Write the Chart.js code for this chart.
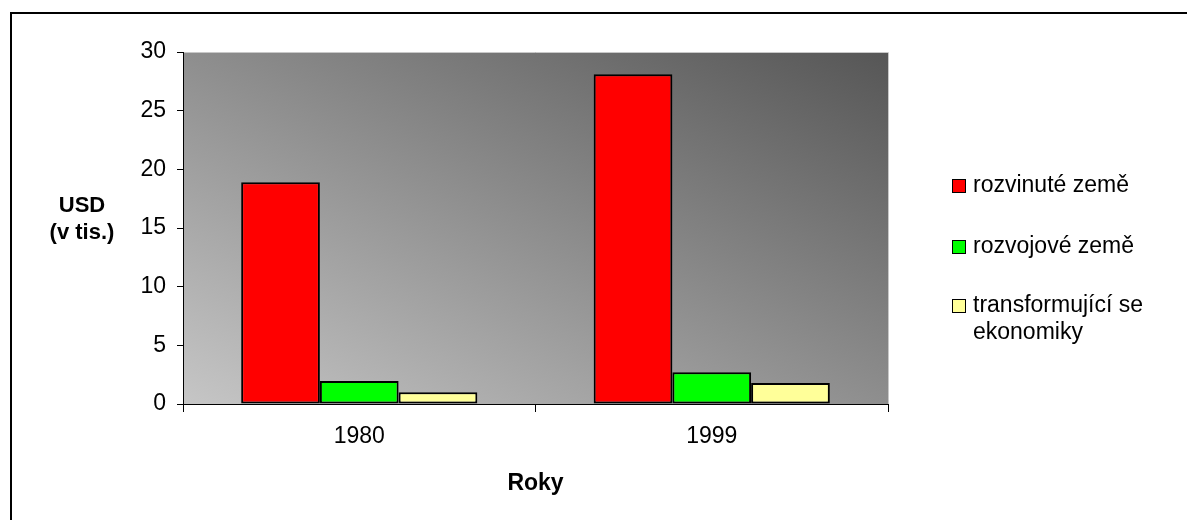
<!DOCTYPE html>
<html>
<head>
<meta charset="utf-8">
<script src="https://cdn.jsdelivr.net/npm/chart.js@4"></script>
<style>
  html, body { margin: 0; padding: 0; background: #fff; }
  #wrap { position: relative; width: 1187px; height: 520px; overflow: hidden; }
  #frame { position: absolute; left: 10px; top: 12px; right: -10px; bottom: -10px;
           border-top: 2px solid #000; border-left: 2px solid #000; }
  canvas { position: absolute; left: 0; top: 0; }
</style>
</head>
<body>
<div id="wrap">
  <div id="frame"></div>
  <canvas id="chart" width="1187" height="520"></canvas>
</div>
<script>
// Data
const categories = ['1980', '1999'];
const developed = [18.9, 28.1];     // rozvinuté země
const developing = [1.95, 2.7];     // rozvojové země
const transition = [1.0, 1.8];      // transformující se ekonomiky
const yTicks = [0, 5, 10, 15, 20, 25, 30];

const seriesNames = ['rozvinuté země', 'rozvojové země', ['transformující se', 'ekonomiky']];
const seriesColors = ['#ff0000', '#00ff00', '#ffff99'];

const FONT = 'Arial, "Liberation Sans", sans-serif';
const FS = 23;

// grey gradient behind the bars, light bottom-left to dark top-right
const plotBackground = {
  id: 'plotBackground',
  beforeDraw(chart) {
    const { ctx, chartArea: a } = chart;
    const w = a.right - a.left, h = a.bottom - a.top;
    const cx = a.left + w / 2, cy = a.top + h / 2;
    const L = Math.sqrt(w * w + h * h);
    const dx = h / L, dy = -w / L, r = w * h / L;
    const g = ctx.createLinearGradient(cx - dx * r, cy - dy * r, cx + dx * r, cy + dy * r);
    g.addColorStop(0, '#c6c6c6');
    g.addColorStop(1, '#565656');
    ctx.save();
    ctx.fillStyle = g;
    ctx.fillRect(a.left, a.top, w, h);
    ctx.strokeStyle = '#c8c8c8';
    ctx.lineWidth = 1;
    ctx.beginPath();
    ctx.moveTo(a.left, a.top + 0.5);
    ctx.lineTo(a.right + 0.5, a.top + 0.5);
    ctx.lineTo(a.right + 0.5, a.bottom);
    ctx.stroke();
    ctx.restore();
  }
};

// y title (horizontal, two lines) and the legend on the right
const extras = {
  id: 'extras',
  afterDraw(chart) {
    const { ctx } = chart;
    ctx.save();
    ctx.fillStyle = '#000';
    ctx.font = 'bold 22px ' + FONT;
    ctx.textAlign = 'center';
    ctx.textBaseline = 'middle';
    ctx.fillText('USD', 82, 206);
    ctx.fillText('(v tis.)', 82, 233);

    ctx.font = FS + 'px ' + FONT;
    ctx.textAlign = 'left';
    const ys = [186, 247, 306];
    chart.data.datasets.forEach((ds, i) => {
      const y = ys[i];
      ctx.fillStyle = ds.backgroundColor;
      ctx.fillRect(952, y - 7, 14, 14);
      ctx.strokeStyle = '#000';
      ctx.lineWidth = 1;
      ctx.strokeRect(952.5, y - 6.5, 13, 13);
      ctx.fillStyle = '#000';
      const lines = Array.isArray(ds.label) ? ds.label : [ds.label];
      lines.forEach((t, j) => ctx.fillText(t, 973, y + j * 27));
    });
    ctx.restore();
  }
};

const ctx = document.getElementById('chart').getContext('2d');
new Chart(ctx, {
  type: 'bar',
  data: {
    labels: categories,
    datasets: [developed, developing, transition].map((d, i) => ({
      label: seriesNames[i],
      data: d,
      backgroundColor: seriesColors[i],
      borderColor: '#000',
      borderWidth: 2,
      borderSkipped: false,
      barPercentage: 1,
      categoryPercentage: 0.67
    }))
  },
  options: {
    responsive: false,
    animation: false,
    layout: { padding: { left: 123, right: 299, top: 52, bottom: 23 } },
    plugins: {
      legend: { display: false },
      tooltip: { enabled: false }
    },
    scales: {
      x: {
        afterFit(scale) { scale.height = 93; },
        grid: { drawOnChartArea: false, tickLength: 8, color: '#000' },
        border: { display: true, color: '#000', width: 1 },
        ticks: { color: '#000', font: { size: FS, family: FONT }, padding: 11 },
        title: {
          display: true, text: 'Roky', color: '#000',
          font: { size: FS, weight: 'bold', family: FONT },
          padding: { top: 4, bottom: 0 }
        }
      },
      y: {
        min: 0,
        max: 30,
        afterFit(scale) { scale.width = 60; },
        afterBuildTicks(scale) { scale.ticks = yTicks.map(v => ({ value: v })); },
        grid: { drawOnChartArea: false, tickLength: 6, color: '#000' },
        border: { display: true, color: '#000', width: 1 },
        ticks: { color: '#000', font: { size: FS, family: FONT }, padding: 11 }
      }
    }
  },
  plugins: [plotBackground, extras]
});
</script>
</body>
</html>
